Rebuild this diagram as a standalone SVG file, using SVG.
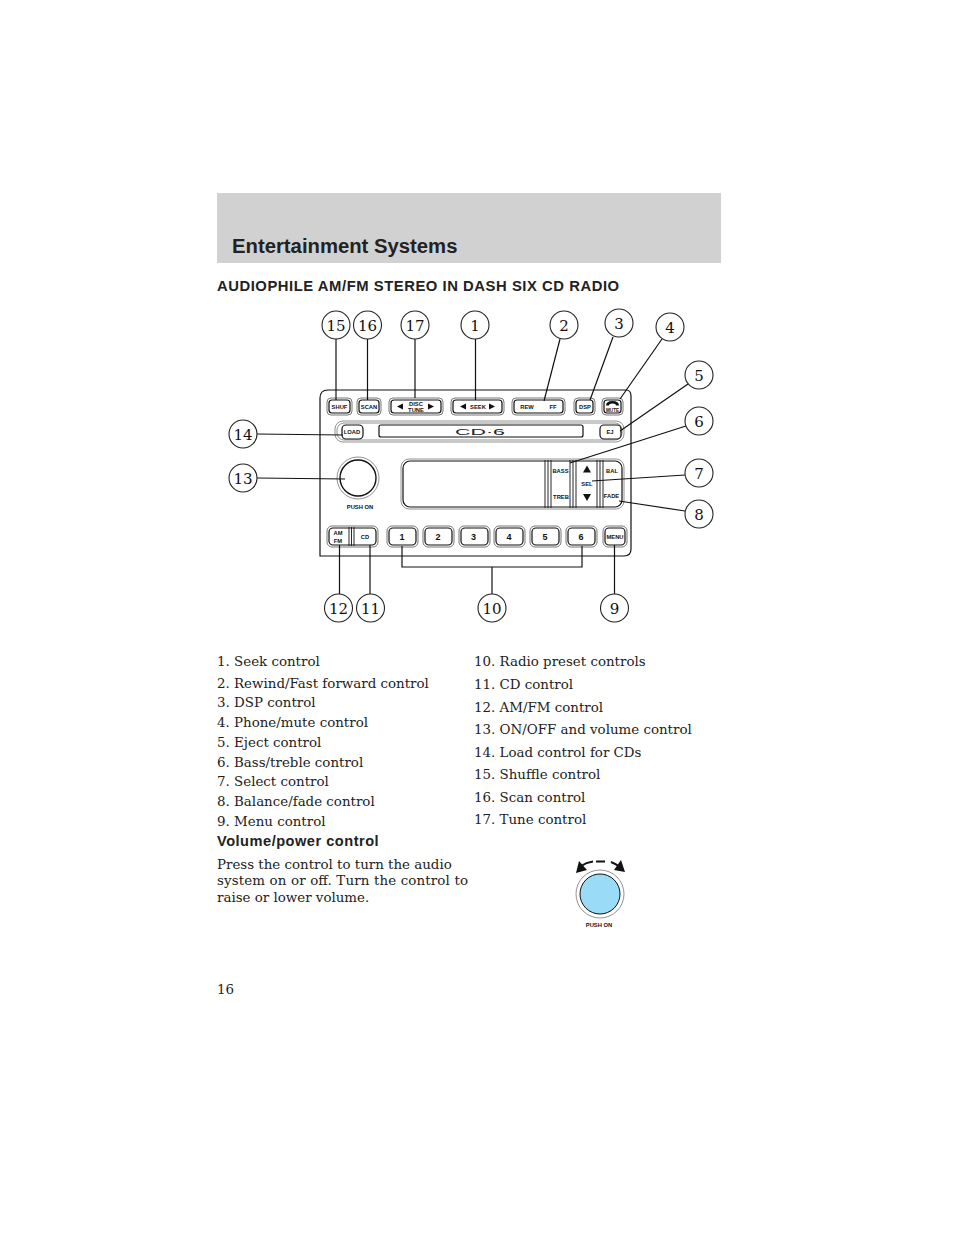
<svg xmlns="http://www.w3.org/2000/svg" width="954" height="1235" viewBox="0 0 954 1235">
<style>
.body{font-family:"DejaVu Serif","Liberation Serif",serif;font-size:13.4px;fill:#222}
.num{font-family:"DejaVu Serif","Liberation Serif",serif;font-size:15px;fill:#111;text-anchor:middle}
.l{font-family:"Liberation Sans",Arial,sans-serif;font-size:5.8px;font-weight:700;fill:#111;text-anchor:middle}
.k{font-family:"Liberation Sans",Arial,sans-serif;font-size:9px;font-weight:700;fill:#111;text-anchor:middle}
.h{font-family:"Liberation Sans",Arial,sans-serif;font-weight:700;fill:#222}
.c{fill:#fff;stroke:#222;stroke-width:1.1}
.o{fill:#fff;stroke:#777;stroke-width:1}
.i{fill:#fff;stroke:#111;stroke-width:1.2}
.conn line,.conn path{fill:none;stroke:#111;stroke-width:1.2}
.p{fill:none;stroke:#111;stroke-width:1.2}
.g{fill:none;stroke:#777;stroke-width:.8}
.t{fill:#111}
</style>
<rect width="954" height="1235" fill="#fff"/>
<rect x="217" y="193" width="504" height="70" fill="#d1d1d1"/>
<text class="h" x="232" y="253" font-size="20.3">Entertainment Systems</text>
<text class="h" x="217" y="291" font-size="14.8" letter-spacing=".55">AUDIOPHILE AM/FM STEREO IN DASH SIX CD RADIO</text>

<g id="faceplate">
<path class="p" d="M320 556V398Q320 390 328 390H626Q631 390 631 396V549Q631 556 624 556Z"/>
<rect class="g" x="335" y="421" width="289" height="21" rx="8"/>
<rect class="g" x="337" y="423" width="285" height="17" rx="7"/>
</g>

<g id="btn-shuf"><rect class="o" x="327" y="398" width="25" height="17" rx="4"/><rect class="i" x="329" y="400" width="21" height="13" rx="3"/><text class="l" x="339.500" y="409">SHUF</text></g>
<g id="btn-scan"><rect class="o" x="357" y="398" width="24" height="17" rx="4"/><rect class="i" x="359" y="400" width="20" height="13" rx="3"/><text class="l" x="369" y="409">SCAN</text></g>
<g id="btn-disc"><rect class="o" x="389" y="398" width="54" height="17" rx="4"/><rect class="i" x="391" y="400" width="50" height="13" rx="3"/><polygon class="t" points="397,406.500 403,403.500 403,409.500"/><polygon class="t" points="434,406.500 428,403.500 428,409.500"/><text class="l" x="416" y="405.500">DISC</text><text class="l" x="416" y="412">TUNE</text></g>
<g id="btn-seek"><rect class="o" x="451" y="398" width="53" height="17" rx="4"/><rect class="i" x="453" y="400" width="49" height="13" rx="3"/><polygon class="t" points="460,406.500 466,403.500 466,409.500"/><polygon class="t" points="495,406.500 489,403.500 489,409.500"/><text class="l" x="478" y="409">SEEK</text></g>
<g id="btn-rew"><rect class="o" x="512" y="398" width="53" height="17" rx="4"/><rect class="i" x="514" y="400" width="49" height="13" rx="3"/><text class="l" x="527" y="409">REW</text><text class="l" x="553" y="409">FF</text></g>
<g id="btn-dsp"><rect class="o" x="574" y="398" width="21" height="17" rx="4"/><rect class="i" x="576" y="400" width="17" height="13" rx="3"/><text class="l" x="585" y="409">DSP</text></g>
<g id="btn-mute"><rect class="o" x="602" y="398" width="21" height="17" rx="4"/><rect class="i" x="604" y="400" width="17" height="13" rx="3"/><path class="t" d="M606 405.500Q606 401 612.500 401Q619 401 619 405.500H616Q616 403.500 612.500 403.500Q609 403.500 609 405.500Z"/><text class="l" x="612.500" y="411.500" style="font-size:4.6px">MUTE</text></g>

<g id="btn-load"><rect class="i" x="342" y="425" width="21" height="14" rx="4"/><text class="l" x="352" y="434">LOAD</text></g>
<g id="cd-slot"><rect class="p" x="379" y="425" width="204" height="12" rx="2"/><text x="480" y="434.500" text-anchor="middle" font-family="Liberation Sans,sans-serif" font-size="9" fill="#222" textLength="50" lengthAdjust="spacingAndGlyphs">CD·6</text></g>
<g id="btn-ej"><rect class="i" x="600" y="425" width="21" height="14" rx="4"/><text class="l" x="610" y="434">EJ</text></g>

<g id="knob"><circle class="g" cx="358" cy="478" r="21"/><circle cx="358" cy="478" r="18" fill="#fff" stroke="#111" stroke-width="1.4"/><text class="l" x="360" y="509">PUSH   ON</text></g>

<g id="display">
<rect class="g" x="401" y="459" width="223" height="50" rx="8"/>
<rect class="p" x="403" y="461" width="219" height="46" rx="7"/>
<path class="p" d="M545 460V508M548 460V508M551 460V508M570 460V508M573 460V508M576 460V508M597 460V508M600 460V508M603 460V508" style="stroke-width:.9"/>
<text class="l" x="560.500" y="472.500">BASS</text><text class="l" x="561" y="498.500">TREB</text>
<polygon class="t" points="587,465.500 591,472.500 583,472.500"/><polygon class="t" points="587,501 591,494 583,494"/>
<text class="l" x="587" y="486">SEL</text>
<text class="l" x="612" y="473">BAL</text><text class="l" x="611.500" y="497.500">FADE</text>
</g>

<g id="btn-amfm"><rect class="o" x="327" y="526" width="51" height="21" rx="5"/><rect class="i" x="329" y="528" width="47" height="17" rx="4"/><path class="p" d="M349 527V546M351.500 527V546M354 527V546" style="stroke-width:.9"/><text class="l" x="338" y="535">AM</text><text class="l" x="338" y="542.500">FM</text><text class="l" x="365" y="539">CD</text></g>
<g id="preset-1"><rect class="o" x="387" y="526" width="31" height="21" rx="5"/><rect class="i" x="389" y="528" width="27" height="17" rx="4"/><text class="k" x="402" y="540">1</text></g>
<g id="preset-2"><rect class="o" x="423" y="526" width="31" height="21" rx="5"/><rect class="i" x="425" y="528" width="27" height="17" rx="4"/><text class="k" x="438" y="540">2</text></g>
<g id="preset-3"><rect class="o" x="459" y="526" width="31" height="21" rx="5"/><rect class="i" x="461" y="528" width="27" height="17" rx="4"/><text class="k" x="473.500" y="540">3</text></g>
<g id="preset-4"><rect class="o" x="494" y="526" width="31" height="21" rx="5"/><rect class="i" x="496" y="528" width="27" height="17" rx="4"/><text class="k" x="509" y="540">4</text></g>
<g id="preset-5"><rect class="o" x="530" y="526" width="31" height="21" rx="5"/><rect class="i" x="532" y="528" width="27" height="17" rx="4"/><text class="k" x="545" y="540">5</text></g>
<g id="preset-6"><rect class="o" x="566" y="526" width="31" height="21" rx="5"/><rect class="i" x="568" y="528" width="27" height="17" rx="4"/><text class="k" x="581" y="540">6</text></g>
<g id="btn-menu"><rect class="o" x="603" y="526" width="24" height="21" rx="5"/><rect class="i" x="605" y="528" width="20" height="17" rx="4"/><text class="l" x="615" y="539">MENU</text></g>

<g id="connectors" class="conn">
<line x1="336" y1="339" x2="336" y2="400"/>
<line x1="367.500" y1="339" x2="367.500" y2="400"/>
<line x1="415" y1="339" x2="415" y2="398"/>
<line x1="475.500" y1="339" x2="475.500" y2="400"/>
<line x1="560" y1="339" x2="544" y2="401"/>
<line x1="613" y1="337" x2="590" y2="400"/>
<line x1="662" y1="339" x2="620" y2="399"/>
<line x1="688" y1="384" x2="620" y2="431"/>
<line x1="686" y1="426" x2="570" y2="463"/>
<line x1="685" y1="475" x2="592" y2="481"/>
<line x1="685" y1="511" x2="619" y2="501"/>
<line x1="257" y1="434" x2="343" y2="435"/>
<line x1="257" y1="478" x2="345" y2="479"/>
<line x1="339.500" y1="594" x2="339.500" y2="545"/>
<line x1="370" y1="594" x2="370" y2="545"/>
<line x1="614.500" y1="594" x2="614.500" y2="545"/>
<path d="M402 546V567H582V546"/>
<line x1="492" y1="567" x2="492" y2="594"/>
</g>

<g id="n15"><circle class="c" cx="336" cy="325" r="14"/><text class="num" x="336" y="331">15</text></g>
<g id="n16"><circle class="c" cx="367.500" cy="325" r="14"/><text class="num" x="367.500" y="331">16</text></g>
<g id="n17"><circle class="c" cx="415" cy="325" r="14"/><text class="num" x="415" y="331">17</text></g>
<g id="n1"><circle class="c" cx="475" cy="325" r="14"/><text class="num" x="475" y="331">1</text></g>
<g id="n2"><circle class="c" cx="564" cy="325" r="14"/><text class="num" x="564" y="331">2</text></g>
<g id="n3"><circle class="c" cx="619" cy="323" r="14"/><text class="num" x="619" y="329">3</text></g>
<g id="n4"><circle class="c" cx="670" cy="327" r="14"/><text class="num" x="670" y="333">4</text></g>
<g id="n5"><circle class="c" cx="699" cy="375" r="14"/><text class="num" x="699" y="381">5</text></g>
<g id="n6"><circle class="c" cx="699" cy="421" r="14"/><text class="num" x="699" y="427">6</text></g>
<g id="n7"><circle class="c" cx="699" cy="473" r="14"/><text class="num" x="699" y="479">7</text></g>
<g id="n8"><circle class="c" cx="699" cy="514" r="14"/><text class="num" x="699" y="520">8</text></g>
<g id="n14"><circle class="c" cx="243" cy="434" r="14"/><text class="num" x="243" y="440">14</text></g>
<g id="n13"><circle class="c" cx="243" cy="478" r="14"/><text class="num" x="243" y="484">13</text></g>
<g id="n12"><circle class="c" cx="338.500" cy="608" r="14"/><text class="num" x="338.500" y="614">12</text></g>
<g id="n11"><circle class="c" cx="370.500" cy="608" r="14"/><text class="num" x="370.500" y="614">11</text></g>
<g id="n10"><circle class="c" cx="492" cy="608" r="14"/><text class="num" x="492" y="614">10</text></g>
<g id="n9"><circle class="c" cx="614.500" cy="608" r="14"/><text class="num" x="614.500" y="614">9</text></g>

<g id="list-left">
<text class="body" x="217" y="666">1. Seek control</text>
<text class="body" x="217" y="688">2. Rewind/Fast forward control</text>
<text class="body" x="217" y="707">3. DSP control</text>
<text class="body" x="217" y="727">4. Phone/mute control</text>
<text class="body" x="217" y="747">5. Eject control</text>
<text class="body" x="217" y="767">6. Bass/treble control</text>
<text class="body" x="217" y="786">7. Select control</text>
<text class="body" x="217" y="806">8. Balance/fade control</text>
<text class="body" x="217" y="826">9. Menu control</text>
</g>
<g id="list-right">
<text class="body" x="474" y="666">10. Radio preset controls</text>
<text class="body" x="474" y="689">11. CD control</text>
<text class="body" x="474" y="712">12. AM/FM control</text>
<text class="body" x="474" y="734">13. ON/OFF and volume control</text>
<text class="body" x="474" y="757">14. Load control for CDs</text>
<text class="body" x="474" y="779">15. Shuffle control</text>
<text class="body" x="474" y="802">16. Scan control</text>
<text class="body" x="474" y="824">17. Tune control</text>
</g>
<text class="h" x="217" y="846" font-size="14.6" letter-spacing=".5">Volume/power control</text>
<text class="body" x="217" y="869">Press the control to turn the audio</text>
<text class="body" x="217" y="885" textLength="251" lengthAdjust="spacing">system on or off. Turn the control to</text>
<text class="body" x="217" y="902">raise or lower volume.</text>
<text class="body" x="217" y="994">16</text>

<g id="volume-knob">
<circle class="g" cx="600" cy="894" r="24"/>
<circle cx="600" cy="894" r="20" fill="#9adcf8" stroke="#111" stroke-width="1"/>
<path class="p" d="M593 861.500Q586 862.500 581 866M596 861.500H605M611 862Q616 864 620 867" style="stroke-width:2"/>
<polygon class="t" points="576,873 579,861 587,870"/>
<polygon class="t" points="625,872 614,870 621,860"/>
<text class="l" x="599" y="927">PUSH ON</text>
</g>
</svg>
